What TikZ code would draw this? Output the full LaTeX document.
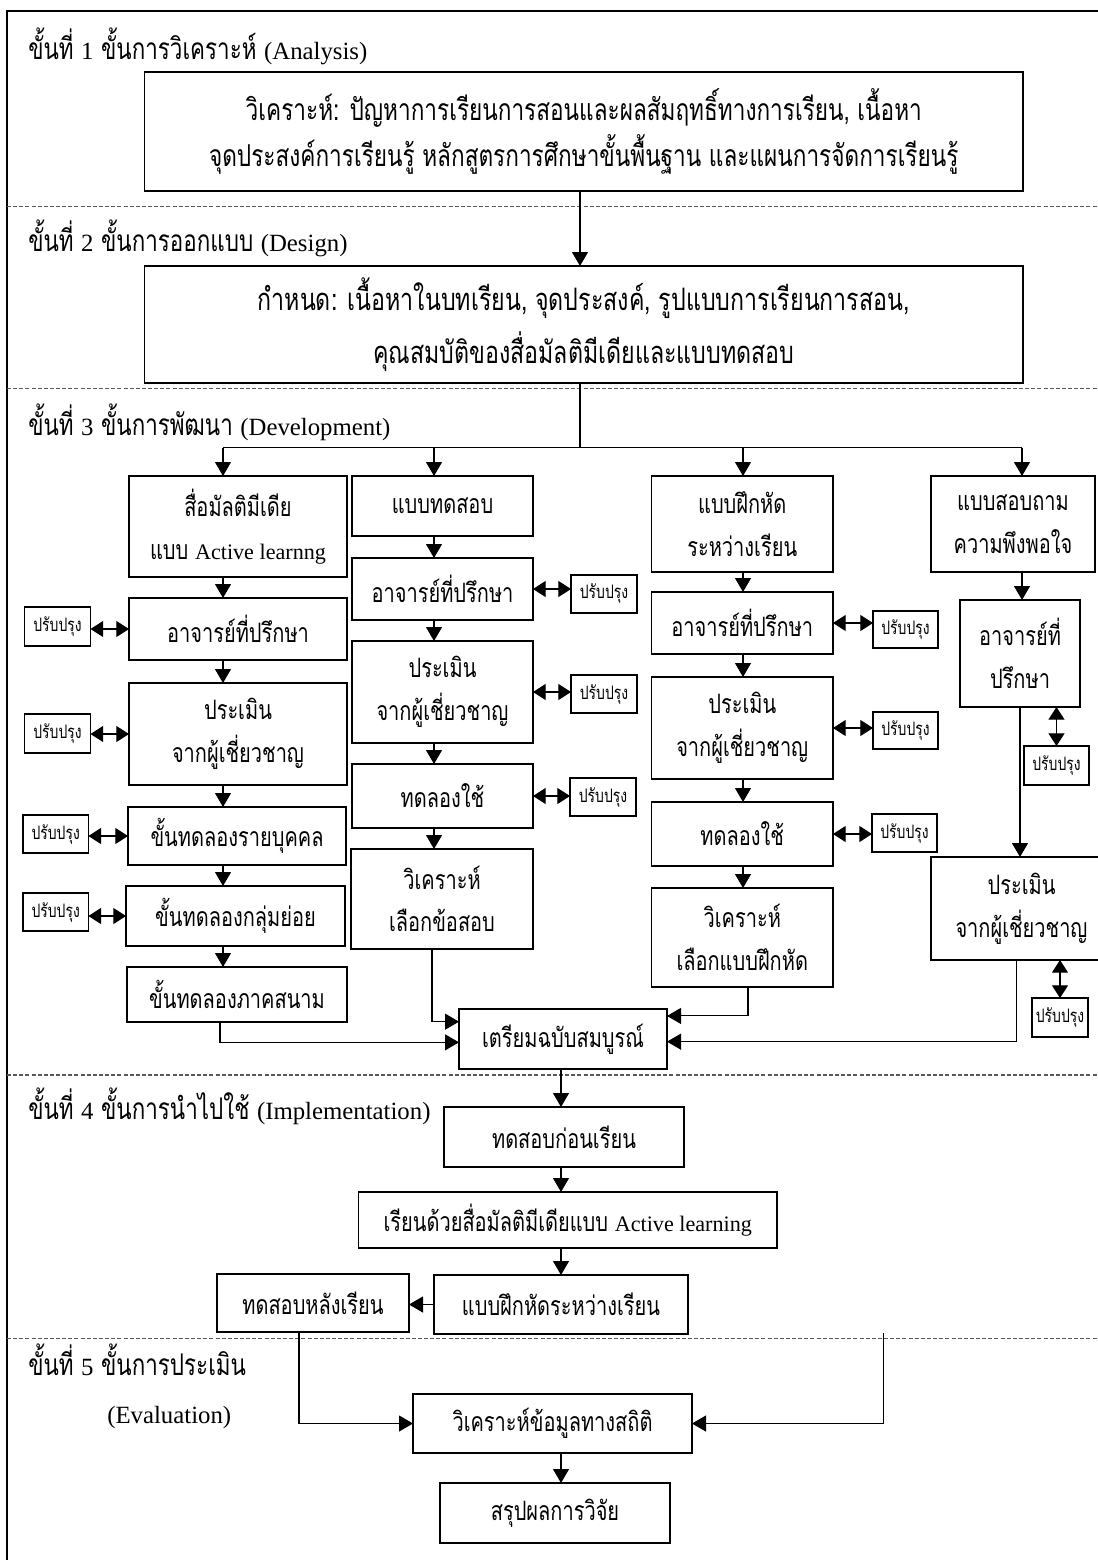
\documentclass[tikz,border=0pt]{standalone}
\usepackage{fontspec}
\setmainfont[Scale=0.83]{Liberation Serif}
\newfontfamily\thai[Script=Thai,FakeStretch=0.75]{Loma}
\usetikzlibrary{arrows.meta,calc}
\newcommand\E[1]{{\rmfamily #1}}
\newcommand\bx[7][box]{\node[#1,minimum width={(#5-#3)*0.75pt},minimum height={(#6-#4)*0.75pt}] (#2) at ({(#3+#5)/2},{(#4+#6)/2}) {#7};}
\begin{document}
\begin{tikzpicture}[x=0.75pt,y=-0.75pt,
  box/.style={draw,line width=1.35pt,inner sep=0pt,outer sep=0pt,align=center,font=\thai\fontsize{20}{32}\selectfont},
  bigbox/.style={box,font=\thai\fontsize{22.6}{35}\selectfont},
  bigboxb/.style={box,font=\thai\fontsize{23.2}{40}\selectfont},
  pbx/.style={box,font=\thai\fontsize{13.9}{16}\selectfont},
  ttl/.style={anchor=base west,inner sep=0pt,font=\thai\fontsize{22.4}{26}\selectfont},
  conn/.style={line width=0.8pt},
  arr/.style={conn,-{Triangle[length=10.5pt,width=12pt]}},
  dbl/.style={conn,{Triangle[length=9.5pt,width=12pt]}-{Triangle[length=9.5pt,width=12pt]}},
  dsh/.style={line width=0.8pt,black!65,dash pattern=on 3pt off 1.6pt}]
\useasboundingbox (0,0) rectangle (1098,1560);
% frame and section separators
\draw[line width=1.3pt] (7,1570) -- (7,11) -- (1110,11);
\foreach \yy in {206.7,388.3,1075,1338.3} \draw[dsh] (7,\yy) -- (1100,\yy);
% titles
\node[ttl] (t1) at (28,59.3) {ขั้นที่ \E{1} ขั้นการวิเคราะห์ \E{(Analysis)}};
\node[ttl] (t2) at (28,251.5) {ขั้นที่ \E{2} ขั้นการออกแบบ \E{(Design)}};
\node[ttl] (t3) at (28,435) {ขั้นที่ \E{3} ขั้นการพัฒนา \E{(Development)}};
\node[ttl] (t4) at (28,1119) {ขั้นที่ \E{4} ขั้นการนำไปใช้ \E{(Implementation)}};
\node[ttl] (t5) at (28,1375) {ขั้นที่ \E{5} ขั้นการประเมิน};
\node[ttl] (t5b) at (107,1423) {\E{(Evaluation)}};
% phase 1 and 2
\bx[bigbox]{b1}{144.5}{72}{1023}{190.7}{วิเคราะห์: ปัญหาการเรียนการสอนและผลสัมฤทธิ์ทางการเรียน, เนื้อหา\\จุดประสงค์การเรียนรู้ หลักสูตรการศึกษาขั้นพื้นฐาน และแผนการจัดการเรียนรู้}
\bx[bigboxb]{b2}{144.5}{266}{1023}{383.3}{กำหนด: เนื้อหาในบทเรียน, จุดประสงค์, รูปแบบการเรียนการสอน,\\คุณสมบัติของสื่อมัลติมีเดียและแบบทดสอบ}
% column 1
\bx{A1}{129}{476}{347}{577}{สื่อมัลติมีเดีย\\แบบ \E{Active learnng}}
\bx{A2}{129}{598}{347}{660}{อาจารย์ที่ปรึกษา}
\bx{A3}{129}{683}{347}{785}{ประเมิน\\จากผู้เชี่ยวชาญ}
\bx{A4}{128}{807}{346}{865}{ขั้นทดลองรายบุคคล}
\bx{A5}{126}{886}{345}{946}{ขั้นทดลองกลุ่มย่อย}
\bx{A6}{127}{967}{347}{1022}{ขั้นทดลองภาคสนาม}
\bx[pbx]{pA2}{24.5}{607}{90.5}{646}{ปรับปรุง}
\bx[pbx]{pA3}{24.5}{714}{90.5}{753}{ปรับปรุง}
\bx[pbx]{pA4}{23}{815}{88.4}{853}{ปรับปรุง}
\bx[pbx]{pA5}{23}{893}{88.4}{931}{ปรับปรุง}
% column 2
\bx{B1}{352}{476}{533}{536}{แบบทดสอบ}
\bx{B2}{352}{558}{533}{620}{อาจารย์ที่ปรึกษา}
\bx{B3}{352}{641}{533}{743}{ประเมิน\\จากผู้เชี่ยวชาญ}
\bx{B4}{352}{764}{533}{828}{ทดลองใช้}
\bx{B5}{351}{849}{533}{949}{วิเคราะห์\\เลือกข้อสอบ}
\bx[pbx]{pB2}{571}{575}{637}{613}{ปรับปรุง}
\bx[pbx]{pB3}{571}{675}{637}{713}{ปรับปรุง}
\bx[pbx]{pB4}{570}{778}{636}{816}{ปรับปรุง}
% column 3
\bx{C1}{651.5}{476}{833}{572}{แบบฝึกหัด\\ระหว่างเรียน}
\bx{C2}{651.5}{592}{833}{654}{อาจารย์ที่ปรึกษา}
\bx{C3}{651.5}{677}{833}{779}{ประเมิน\\จากผู้เชี่ยวชาญ}
\bx{C4}{651.5}{802}{833}{866}{ทดลองใช้}
\bx{C5}{651.5}{888}{833}{987}{วิเคราะห์\\เลือกแบบฝึกหัด}
\bx[pbx]{pC2}{873}{611}{938}{648}{ปรับปรุง}
\bx[pbx]{pC3}{873}{712}{938}{749}{ปรับปรุง}
\bx[pbx]{pC4}{872}{814}{937}{852}{ปรับปรุง}
% column 4
\bx{D1}{931}{476}{1095}{572}{แบบสอบถาม\\ความพึงพอใจ}
\bx{D2}{960}{600}{1080}{707}{อาจารย์ที่\\ปรึกษา}
\bx{D3}{931}{857}{1112}{960}{ประเมิน\\จากผู้เชี่ยวชาญ}
\bx[pbx]{pD2}{1024}{746}{1089}{785}{ปรับปรุง}
\bx[pbx]{pD3}{1032}{998}{1088}{1037}{ปรับปรุง}
% merge and later phases
\bx{prep}{459}{1009}{667}{1069}{เตรียมฉบับสมบูรณ์}
\bx{pre}{444}{1107}{684}{1167}{ทดสอบก่อนเรียน}
\bx{learn}{358.5}{1192}{777}{1248}{เรียนด้วยสื่อมัลติมีเดียแบบ \E{Active learning}}
\bx{post}{217}{1274}{409}{1332}{ทดสอบหลังเรียน}
\bx{drill}{434}{1275}{688}{1334}{แบบฝึกหัดระหว่างเรียน}
\bx{anal}{413}{1394}{692}{1453}{วิเคราะห์ข้อมูลทางสถิติ}
\bx{concl}{440}{1483}{670}{1543}{สรุปผลการวิจัย}
% helper coordinates
\coordinate (cx) at (580,447.7);
\coordinate (ka) at (223,447.7);
\coordinate (kb) at (434,447.7);
\coordinate (kc) at (743,447.7);
\coordinate (kd) at (1022,447.7);
\coordinate (a6x) at (220,0);
\coordinate (b5x) at (432,0);
\coordinate (c5x) at (748,0);
\coordinate (d3x) at (1016.7,0);
\coordinate (cm) at (561,0);
\coordinate (px) at (299,0);
\coordinate (rtop) at (883.7,1333.3);
% connectors phase 1-3
\draw[arr] (b1.south -| cx) -- (b2.north -| cx);
\draw[conn] (b2.south -| cx) -- (cx);
\draw[conn] (ka) -- (kd);
\draw[arr] (ka) -- (A1.north -| ka);
\draw[arr] (kb) -- (B1.north -| kb);
\draw[arr] (kc) -- (C1.north -| kc);
\draw[arr] (kd) -- (D1.north -| kd);
\foreach \u/\v in {A1/A2,A2/A3,A3/A4,A4/A5,A5/A6} \draw[arr] (\u.south -| ka) -- (\v.north -| ka);
\foreach \u/\v in {B1/B2,B2/B3,B3/B4,B4/B5} \draw[arr] (\u.south -| kb) -- (\v.north -| kb);
\foreach \u/\v in {C1/C2,C2/C3,C3/C4,C4/C5} \draw[arr] (\u.south -| kc) -- (\v.north -| kc);
\draw[arr] (D1.south -| kd) -- (D2.north -| kd);
\draw[arr] (D2.south) -- (D2.south |- D3.north);
\foreach \b/\p in {A2/pA2,A3/pA3,A4/pA4,A5/pA5} \draw[dbl] (\p.east |- \b.west) -- (\b.west);
\foreach \b/\p in {B2/pB2,B3/pB3,B4/pB4,C2/pC2,C3/pC3,C4/pC4} \draw[dbl] (\b.east) -- (\b.east -| \p.west);
\draw[dbl] (D2.south -| pD2.north) -- (pD2.north);
\draw[dbl] (D3.south -| pD3.north) -- (pD3.north);
% to prep
\draw[arr] (A6.south -| a6x) |- ([yshift=-2.5pt]prep.west);
\draw[arr] (B5.south -| b5x) |- ([yshift=13pt]prep.west);
\draw[arr] (C5.south -| c5x) |- ([yshift=17.3pt]prep.east);
\draw[arr] (D3.south -| d3x) |- ([yshift=-2pt]prep.east);
% phase 4-5
\draw[arr] (prep.south -| cm) -- (pre.north -| cm);
\draw[arr] (pre.south -| cm) -- (learn.north -| cm);
\draw[arr] (learn.south -| cm) -- (drill.north -| cm);
\draw[arr] (drill.west) -- (drill.west -| post.east);
\draw[arr] (post.south -| px) |- (anal.west);
\draw[arr] (rtop) |- (anal.east);
\draw[arr] (anal.south -| cm) -- (concl.north -| cm);
\end{tikzpicture}
\end{document}
